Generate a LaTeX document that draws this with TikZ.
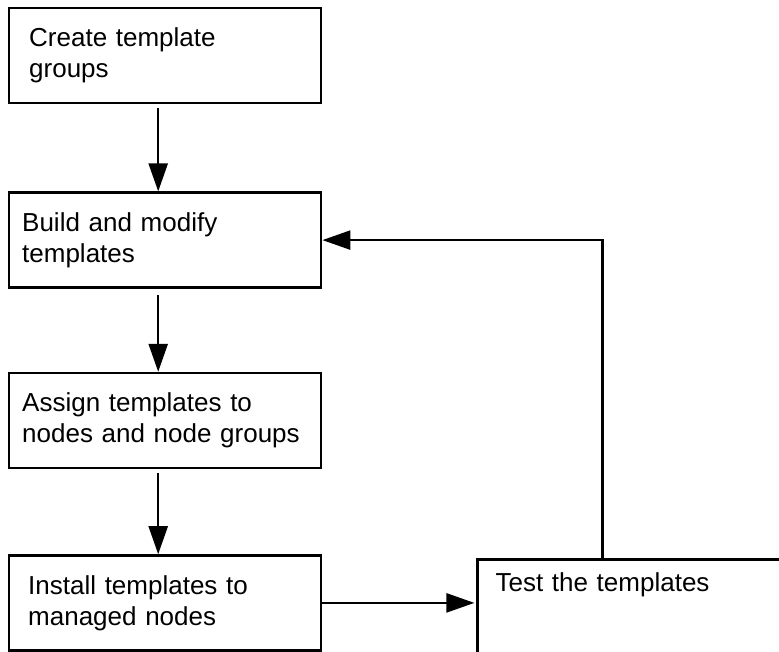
\documentclass[tikz,border=0pt]{standalone}
\usepackage{fontspec}
\setmainfont{Liberation Sans}
\usetikzlibrary{arrows.meta, positioning}

\begin{document}
\begin{tikzpicture}[
    x=1pt, y=-1pt,
    node distance=85pt,
    stage/.style={rectangle, draw=black, line width=2.4pt, minimum width=312pt, minimum height=95pt, text width=286pt, inner xsep=0pt, align=left, font=\fontsize{26pt}{31pt}\selectfont},
    testbox/.style={rectangle, draw=black, line width=2.4pt, anchor=north west, text width=320pt, inner xsep=18pt, inner ysep=13pt, text height=19pt, text depth=90pt, align=left, font=\fontsize{26pt}{31pt}\selectfont},
    arrow/.style={-{Triangle[length=28pt, width=19pt]}, line width=2.4pt}
]
    \useasboundingbox (0,0) rectangle (779,652);
    \clip (0,0) rectangle (779,652);

    \node[stage, text width=272pt, anchor=north west] (groups) at (8,7) {Create template\\groups};
    \node[stage, below=87pt of groups] (build) {Build and modify\\templates};
    \node[stage, below=83pt of build] (assign) {Assign templates to\\nodes and node groups};
    \node[stage, text width=274pt, below=85pt of assign] (install) {Install templates to\\managed nodes};
    \node[testbox] (test) at ([xshift=154pt, yshift=-4pt]install.north east) {Test the templates};

    \draw[arrow, shorten <=4pt] ([xshift=-7pt]groups.south) -- ([xshift=-7pt]build.north);
    \draw[arrow, shorten <=6pt] ([xshift=-7pt]build.south) -- ([xshift=-7pt]assign.north);
    \draw[arrow, shorten <=4pt] ([xshift=-7pt]assign.south) -- ([xshift=-7pt]install.north);
    \draw[arrow, shorten >=2pt] (install.east) -- (install.east -| test.west);
    \draw[arrow] ([xshift=126pt]test.north west) |- (build.east);
\end{tikzpicture}
\end{document}
